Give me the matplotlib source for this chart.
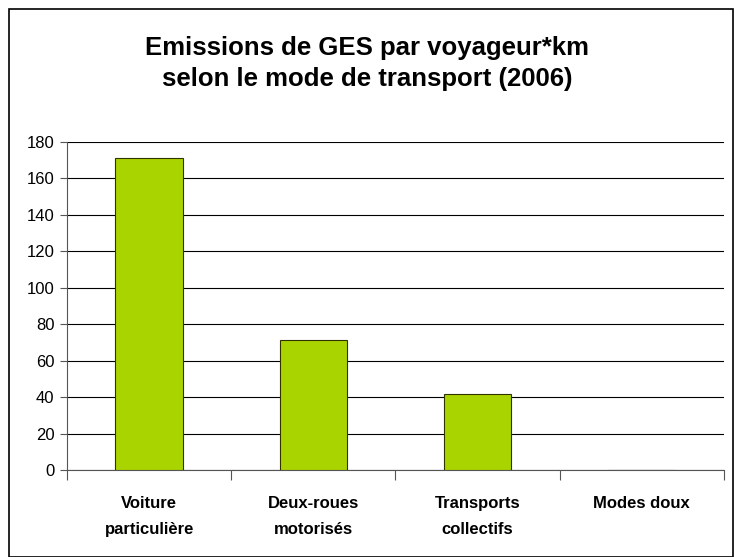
import matplotlib
matplotlib.use("Agg")
from matplotlib import pyplot as plt
from matplotlib.patches import Rectangle
import numpy as np

plt.rcParams['font.family'] = ['Liberation Sans', 'DejaVu Sans']

categories = ["Voiture\nparticulière", "Deux-roues\nmotorisés", "Transports\ncollectifs", "Modes doux"]
values = [171, 71.5, 41.5, 0]
yticks = list(range(0, 181, 20))

fig = plt.figure(figsize=(7.34, 5.57), dpi=100)
ax = fig.add_axes([0.0913, 0.156, 0.895, 0.589])

x = np.arange(len(categories))
ax.bar(x, values, width=0.41, color="#aad400", edgecolor="#333300", linewidth=0.8, zorder=3)

ax.set_xlim(-0.5, len(categories) - 0.5)
ax.set_ylim(0, 180)
ax.set_yticks(yticks)
ax.tick_params(axis="y", labelsize=12, length=5, width=0.8, color="#555555", pad=4)
ax.yaxis.grid(True, color="black", linewidth=0.8, zorder=0)

# categories go in the middle, ticks sit on the boundaries
ax.set_xticks(np.arange(len(categories) + 1) - 0.5)
ax.set_xticklabels([])
ax.tick_params(axis="x", length=7, width=0.8, color="#555555")
ax.set_xticks(x, minor=True)
ax.set_xticklabels(categories, minor=True, fontsize=12, fontweight="bold", linespacing=1.9)
ax.tick_params(axis="x", which="minor", length=0, pad=19)

for s in ["top", "right"]:
    ax.spines[s].set_visible(False)
ax.spines["left"].set_color("#555555")
ax.spines["bottom"].set_color("#555555")

fig.text(0.5, 0.886, "Emissions de GES par voyageur*km\nselon le mode de transport (2006)",
         ha="center", va="center", fontsize=18.5, fontweight="bold", linespacing=1.42)

fig.patches.append(Rectangle((0.012, 0.0), 0.986, 0.984, transform=fig.transFigure,
                             fill=False, edgecolor="black", linewidth=1.2))

fig.savefig("out.png", dpi=100)
